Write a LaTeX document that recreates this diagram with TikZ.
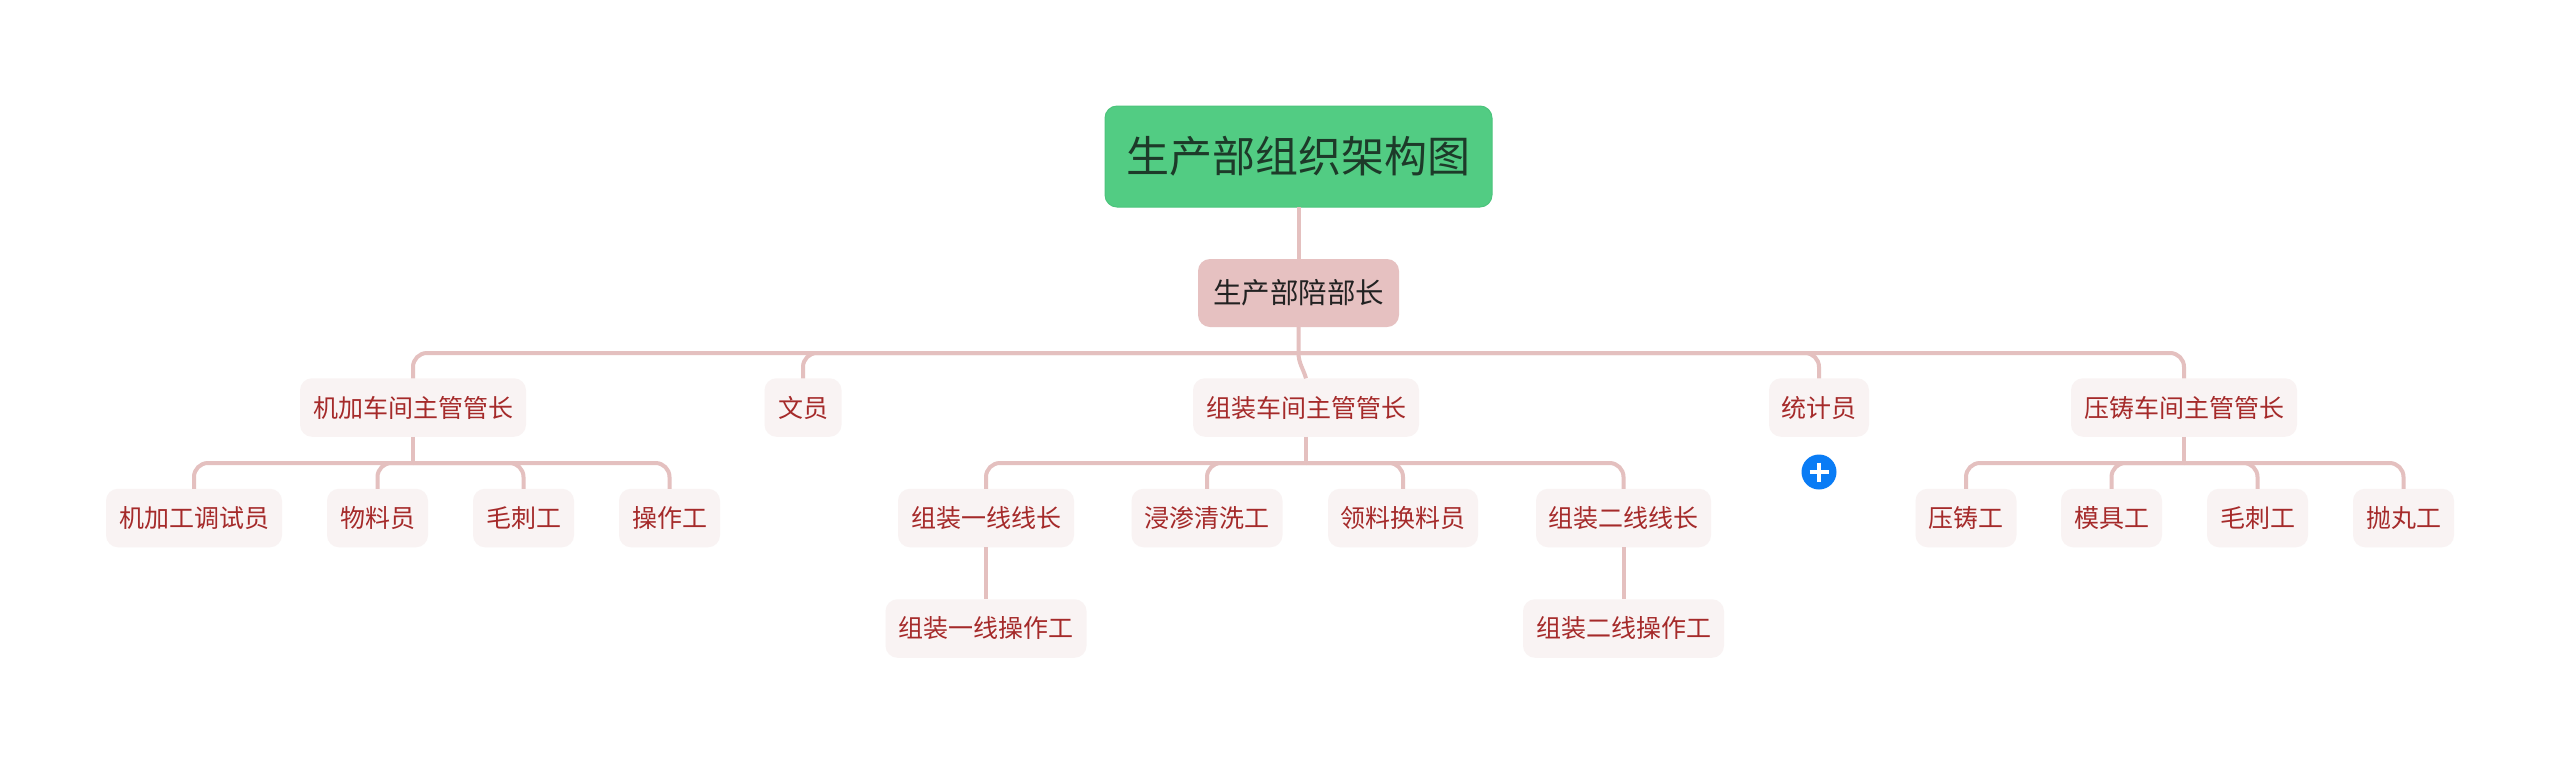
\documentclass[tikz,border=0pt]{standalone}
\usepackage{fontspec}
\usetikzlibrary{calc}
\setmainfont{Noto Sans CJK SC}
\definecolor{rootfill}{HTML}{52CC83}
\definecolor{rootedge}{HTML}{4CC47C}
\definecolor{rootink}{HTML}{1D3A29}
\definecolor{subfill}{HTML}{E6C1C1}
\definecolor{subink}{HTML}{222222}
\definecolor{leaffill}{HTML}{F9F3F3}
\definecolor{leafink}{HTML}{A52A2A}
\definecolor{linkcol}{HTML}{E4C0BF}
\definecolor{plusblue}{HTML}{0A7CF5}
\tikzset{
  x=1pt,y=-1pt,
  boxbase/.style={rectangle,inner sep=0pt,outer sep=0pt,align=center},
  rootbox/.style={boxbase,fill=rootfill,draw=rootedge,line width=1pt,rounded corners=12pt,text=rootink,font=\fontsize{43}{50}\selectfont,minimum width=387pt,minimum height=101pt},
  subbox/.style={boxbase,fill=subfill,rounded corners=12pt,text=subink,font=\fontsize{28.5}{34}\selectfont,minimum width=201pt,minimum height=68pt},
  leafbox/.style={boxbase,fill=leaffill,rounded corners=12pt,text=leafink,font=\fontsize{25}{30}\selectfont,minimum height=58.5pt},
  linkline/.style={draw=linkcol,line width=4pt},
  bentlink/.style={linkline,rounded corners=14pt},
  plusmark/.style={draw=white,line width=3.5pt}
}
\begin{document}
\begin{tikzpicture}
\useasboundingbox[fill=white] (0,0) rectangle (2560,764);
\node[rootbox] (root) at (1298.5,156.5) {生产部组织架构图};
\node[subbox] (sub) at (1298.5,293) {生产部陪部长};
\coordinate (busA) at (1298.5,353);
% level 2
\node[leafbox,minimum width=226pt] (jj) at (413,407.5) {机加车间主管管长};
\node[leafbox,minimum width=77pt] (wy) at (803,407.5) {文员};
\node[leafbox,minimum width=226pt] (zz) at (1306,407.5) {组装车间主管管长};
\node[leafbox,minimum width=100pt] (tj) at (1819,407.5) {统计员};
\node[leafbox,minimum width=226pt] (yz) at (2184,407.5) {压铸车间主管管长};
\node[circle,fill=plusblue,inner sep=0pt,minimum size=35pt] (plus) at (1819,472) {};
% level 3
\node[leafbox,minimum width=176pt] (a1) at (194,518) {机加工调试员};
\node[leafbox,minimum width=101pt] (a2) at (377.5,518) {物料员};
\node[leafbox,minimum width=101pt] (a3) at (523.5,518) {毛刺工};
\node[leafbox,minimum width=101pt] (a4) at (669.5,518) {操作工};
\node[leafbox,minimum width=176pt] (b1) at (986,518) {组装一线线长};
\node[leafbox,minimum width=151pt] (b2) at (1207,518) {浸渗清洗工};
\node[leafbox,minimum width=150pt] (b3) at (1403,518) {领料换料员};
\node[leafbox,minimum width=175pt] (b4) at (1623.5,518) {组装二线线长};
\node[leafbox,minimum width=201pt] (c1) at (986,628.5) {组装一线操作工};
\node[leafbox,minimum width=201pt] (c2) at (1623.5,628.5) {组装二线操作工};
\node[leafbox,minimum width=101pt] (d1) at (1966,518) {压铸工};
\node[leafbox,minimum width=101pt] (d2) at (2111.5,518) {模具工};
\node[leafbox,minimum width=101pt] (d3) at (2257.5,518) {毛刺工};
\node[leafbox,minimum width=101pt] (d4) at (2403.5,518) {抛丸工};
\coordinate (busB) at (413,463);
\coordinate (busC) at (1306,463);
\coordinate (busD) at (2184,463);
% links
\draw[linkline] (root.south) -- (sub.north);
\draw[linkline] (sub.south) -- (busA) .. controls ($(busA)+(0,10)$) and ($(zz.north)+(-3,-10)$) .. (zz.north);
\foreach \tgt in {jj,wy,tj,yz} \draw[bentlink] (busA) -| (\tgt.north);
\draw[linkline] (jj.south) -- (busB);
\foreach \tgt in {a1,a2,a3,a4} \draw[bentlink] (busB) -| (\tgt.north);
\draw[linkline] (zz.south) -- (busC);
\foreach \tgt in {b1,b2,b3,b4} \draw[bentlink] (busC) -| (\tgt.north);
\draw[linkline] (yz.south) -- (busD);
\foreach \tgt in {d1,d2,d3,d4} \draw[bentlink] (busD) -| (\tgt.north);
\draw[linkline] (b1.south) -- (c1.north);
\draw[linkline] (b4.south) -- (c2.north);
\draw[plusmark] (plus.center) ++(-9.5,0) -- ++(19,0);
\draw[plusmark] (plus.center) ++(0,-9.5) -- ++(0,19);
\end{tikzpicture}
\end{document}
